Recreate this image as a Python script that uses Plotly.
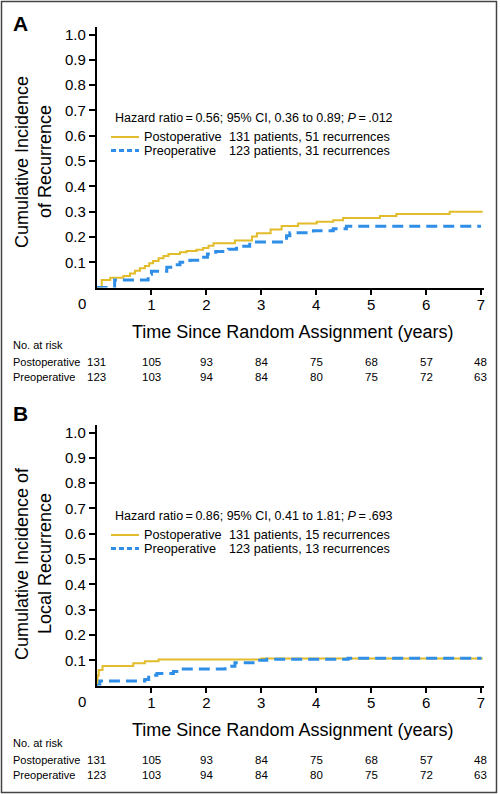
import plotly.graph_objects as go

W, H = 500, 794

# ---------------- data ----------------
years = [0, 1, 2, 3, 4, 5, 6, 7]
risk_post = [131, 105, 93, 84, 75, 68, 57, 48]
risk_pre = [123, 103, 94, 84, 80, 75, 72, 63]

# Panel A: cumulative incidence of recurrence
a_post_t = [0, 0.095, 0.25, 0.49, 0.61, 0.70, 0.79, 0.88, 0.96, 1.03, 1.13, 1.22, 1.31, 1.52, 1.64, 1.82,
            1.94, 2.04, 2.13, 2.52, 2.83, 2.92, 3.17, 3.37, 3.67, 4.01, 4.31, 4.49, 5.16, 5.46, 6.43, 7.03]
a_post_v = [0, 0.030, 0.039, 0.046, 0.056, 0.067, 0.076, 0.085, 0.096, 0.105, 0.116, 0.125, 0.133, 0.140,
            0.145, 0.150, 0.156, 0.165, 0.175, 0.186, 0.202, 0.215, 0.230, 0.243, 0.253, 0.260, 0.266,
            0.275, 0.283, 0.291, 0.300, 0.300]
a_pre_t = [0, 0.33, 0.94, 1.00, 1.28, 1.40, 1.52, 1.70, 1.88, 2.02, 2.17, 2.40, 2.55, 2.79, 3.46, 3.52,
           3.95, 4.31, 4.55, 7.00]
a_pre_v = [0, 0.030, 0.053, 0.065, 0.080, 0.090, 0.100, 0.108, 0.120, 0.133, 0.143, 0.152, 0.163, 0.180,
           0.205, 0.217, 0.225, 0.233, 0.242, 0.242]

# Panel B: cumulative incidence of local recurrence
b_post_t = [0, 0.02, 0.04, 0.11, 0.67, 0.88, 1.13, 3.00, 7.03]
b_post_v = [0, 0.040, 0.062, 0.077, 0.088, 0.096, 0.103, 0.107, 0.107]
b_pre_t = [0, 0.06, 0.88, 0.95, 1.10, 1.40, 1.52, 2.34, 2.52, 2.85, 3.10, 4.58, 7.01]
b_pre_v = [0, 0.018, 0.024, 0.041, 0.048, 0.056, 0.066, 0.076, 0.090, 0.100, 0.104, 0.108, 0.108]

y_ticks = [0.1, 0.2, 0.3, 0.4, 0.5, 0.6, 0.7, 0.8, 0.9, 1.0]
x_ticks = [1, 2, 3, 4, 5, 6, 7]

hr_a = "Hazard ratio\u2009=\u20090.56; 95% CI, 0.36 to 0.89; <i>P</i>\u2009=\u2009.012"
hr_b = "Hazard ratio\u2009=\u20090.86; 95% CI, 0.41 to 1.81; <i>P</i>\u2009=\u2009.693"
leg_a = ["131 patients, 51 recurrences", "123 patients, 31 recurrences"]
leg_b = ["131 patients, 15 recurrences", "123 patients, 13 recurrences"]
ytitle_a = ["Cumulative Incidence", "of Recurrence"]
ytitle_b = ["Cumulative Incidence of", "Local Recurrence"]
xtitle = "Time Since Random Assignment (years)"

YEL = "#E2BC2A"
BLU = "#2F8FE8"
FONT = "Liberation Sans, Arial, sans-serif"

def fx(px):
    return px / W

def fy(py):
    return 1 - py / H

fig = go.Figure()

panels = [
    dict(off=0, x="x", y="y", post=(a_post_t, a_post_v), pre=(a_pre_t, a_pre_v), hr=hr_a, leg=leg_a,
         yt=ytitle_a, letter="A", lety=23),
    dict(off=398, x="x2", y="y2", post=(b_post_t, b_post_v), pre=(b_pre_t, b_pre_v), hr=hr_b, leg=leg_b,
         yt=ytitle_b, letter="B", lety=413.5),
]

annotations = []
shapes = []

for i, p in enumerate(panels):
    o = p["off"]
    fig.add_trace(go.Scatter(x=p["post"][0], y=p["post"][1], mode="lines", line=dict(color=YEL, width=2, shape="hv"),
                             xaxis=p["x"], yaxis=p["y"], showlegend=False, hoverinfo="skip"))
    fig.add_trace(go.Scatter(x=p["pre"][0], y=p["pre"][1], mode="lines",
                             line=dict(color=BLU, width=3, shape="hv", dash="11px,6px"),
                             xaxis=p["x"], yaxis=p["y"], showlegend=False, hoverinfo="skip"))

    sfx = "" if i == 0 else "2"
    ax = dict(domain=[fx(96.5), fx(484)], range=[0, 7.055], showline=True, linecolor="black", linewidth=1.5,
              ticks="outside", ticklen=6, tickwidth=1.5, tickcolor="black", tickvals=x_ticks,
              showgrid=False, zeroline=False, tickfont=dict(family=FONT, size=15, color="black"),
              ticklabelstandoff=-3, anchor="y" + sfx, fixedrange=True)
    ay = dict(domain=[fy(287.6 + o), fy(26.7 + o)], range=[0, 1.031], showline=True, linecolor="black",
              linewidth=1.5, ticks="outside", ticklen=6, tickwidth=1.5, tickcolor="black", tickvals=y_ticks,
              ticktext=["%.1f" % v for v in y_ticks], showgrid=False, zeroline=False,
              tickfont=dict(family=FONT, size=15, color="black"), anchor="x" + sfx, fixedrange=True)
    fig.update_layout(**{"xaxis" + sfx: ax, "yaxis" + sfx: ay})

    # panel letter
    annotations.append(dict(text="<b>%s</b>" % p["letter"], x=fx(11), y=fy(p["lety"]), xref="paper", yref="paper",
                            xanchor="left", yanchor="middle", showarrow=False,
                            font=dict(family=FONT, size=21, color="black")))
    # y title (two rotated lines)
    for j, line in enumerate(p["yt"]):
        annotations.append(dict(text=line, x=fx(22 + 23 * j), y=fy(162 + (0 if i == 0 else 402)),
                                xref="paper", yref="paper", xanchor="center", yanchor="middle",
                                textangle=-90, showarrow=False, font=dict(family=FONT, size=18, color="black")))
    # origin 0 label
    annotations.append(dict(text="0", x=fx(82), y=fy(303 + o), xref="paper", yref="paper", xanchor="center",
                            yanchor="middle", showarrow=False, font=dict(family=FONT, size=15, color="black")))
    # x title
    annotations.append(dict(text=xtitle, x=fx(292), y=fy(331.7 + o), xref="paper", yref="paper", xanchor="center",
                            yanchor="middle", showarrow=False, font=dict(family=FONT, size=18, color="black")))
    # hazard ratio text
    annotations.append(dict(text=p["hr"], x=fx(113), y=fy(117.5 + o), xref="paper", yref="paper", xanchor="left",
                            yanchor="middle", showarrow=False, font=dict(family=FONT, size=12.5, color="black")))
    # legend
    for j, (name, col, dash, w) in enumerate([("Postoperative", YEL, "solid", 2), ("Preoperative", BLU, "5px,3px", 3)]):
        yy = 137 + 13.5 * j + o
        shapes.append(dict(type="line", xref="paper", yref="paper", x0=fx(111), x1=fx(139), y0=fy(yy), y1=fy(yy),
                           line=dict(color=col, width=w, dash=dash)))
        annotations.append(dict(text=name, x=fx(142), y=fy(yy), xref="paper", yref="paper", xanchor="left",
                                yanchor="middle", showarrow=False, font=dict(family=FONT, size=12.7, color="black")))
        annotations.append(dict(text=p["leg"][j], x=fx(227), y=fy(yy), xref="paper", yref="paper", xanchor="left",
                                yanchor="middle", showarrow=False, font=dict(family=FONT, size=12.7, color="black")))
    # risk table
    annotations.append(dict(text="No. at risk", x=fx(11), y=fy(345 + o), xref="paper", yref="paper",
                            xanchor="left", yanchor="middle", showarrow=False,
                            font=dict(family=FONT, size=11, color="black")))
    for j, (name, vals) in enumerate([("Postoperative", risk_post), ("Preoperative", risk_pre)]):
        yy = 362 + 15 * j + o
        annotations.append(dict(text=name, x=fx(11), y=fy(yy), xref="paper", yref="paper", xanchor="left",
                                yanchor="middle", showarrow=False, font=dict(family=FONT, size=11, color="black")))
        for t, v in zip(years, vals):
            annotations.append(dict(text=str(v), x=t, y=fy(yy), xref=p["x"], yref="paper", xanchor="center",
                                    yanchor="middle", showarrow=False,
                                    font=dict(family=FONT, size=11.5, color="black")))

# outer frame
shapes.append(dict(type="rect", xref="paper", yref="paper", x0=fx(1.5), x1=fx(496.5), y0=fy(792.5), y1=fy(1.5),
                   line=dict(color="#444444", width=1.5)))

fig.update_layout(width=W, height=H, margin=dict(l=0, r=0, t=0, b=0, pad=0), paper_bgcolor="white",
                  plot_bgcolor="white", annotations=annotations, shapes=shapes, showlegend=False,
                  font=dict(family=FONT, color="black"))

fig.write_html("out.html", config={"displayModeBar": False},
               post_script="document.body.style.margin='0';document.body.style.overflow='hidden';")
